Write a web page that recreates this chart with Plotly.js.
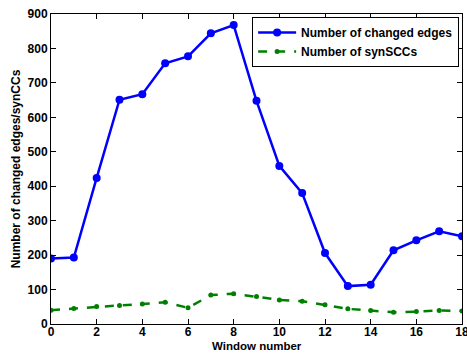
<!DOCTYPE html>
<html><head><meta charset="utf-8">
<script src="https://cdn.plot.ly/plotly-3.0.1.min.js"></script>
<style>html,body{margin:0;padding:0;background:#fff}#c{width:467px;height:353px}</style>
</head><body><div id="c"></div>
<script>
const windows = [0,1,2,3,4,5,6,7,8,9,10,11,12,13,14,15,16,17,18];
const changedEdges = [190,193,424,651,667,757,777,844,868,648,459,380,206,110,114,214,243,269,255];
const synSCCs = [40,45,51,54,58,63,47,84,88,80,70,66,56,44,39,34,36,39,38];
const seriesNames = ["Number of changed edges","Number of synSCCs"];
const xTicks = [0,2,4,6,8,10,12,14,16,18];
const yTicks = [0,100,200,300,400,500,600,700,800,900];
const xTitle = "Window number";
const yTitle = "Number of changed edges/synCCs";

const fam = "Liberation Sans, Arial, Helvetica, sans-serif";
const f12 = {family:fam, size:12, color:"#000"};
const traces = [
  {x:windows, y:changedEdges, name:"<b>"+seriesNames[0]+"</b>", type:"scatter", mode:"lines+markers",
   line:{color:"rgb(0,0,255)", width:2.5}, marker:{symbol:"circle", size:8, color:"rgb(0,0,255)"}},
  {x:windows, y:synSCCs, name:"<b>"+seriesNames[1]+"</b>", type:"scatter", mode:"lines+markers",
   line:{color:"rgb(0,128,0)", width:2.5, dash:"dash"}, marker:{symbol:"circle", size:5, color:"rgb(0,128,0)"}}
];
const axisCommon = {showgrid:false, zeroline:false, showline:true, linecolor:"#000", linewidth:1,
  mirror:"ticks", ticks:"inside", ticklen:5, tickcolor:"#000", tickfont:f12, ticklabeloverflow:"allow"};
const layout = {
  width:467, height:353,
  margin:{l:51, r:5, t:14, b:29},
  paper_bgcolor:"#fff", plot_bgcolor:"#fff",
  font:f12,
  showlegend:true,
  legend:{x:0.993, xanchor:"right", y:0.99, yanchor:"top", bordercolor:"#000", borderwidth:1,
    bgcolor:"#fff", font:f12, tracegroupgap:0, itemwidth:38},
  xaxis:Object.assign({}, axisCommon, {range:[0,18], tickvals:xTicks, ticktext:xTicks.map(v=>"<b>"+v+"</b>"),
    ticklabelstandoff:-3}),
  yaxis:Object.assign({}, axisCommon, {range:[0,900], tickvals:yTicks, ticktext:yTicks.map(v=>"<b>"+v+"</b>"),
    title:{text:"<b>"+yTitle+"</b>", font:f12, standoff:4}}),
  annotations:[{text:"<b>"+xTitle+"</b>", xref:"paper", yref:"paper", x:0.5, y:-0.0935,
    xanchor:"center", yanchor:"bottom", showarrow:false, font:{family:fam, size:11.5, color:"#000"}, borderpad:0}]
};
Plotly.newPlot("c", traces, layout, {displayModeBar:false, staticPlot:true});
</script></body></html>
